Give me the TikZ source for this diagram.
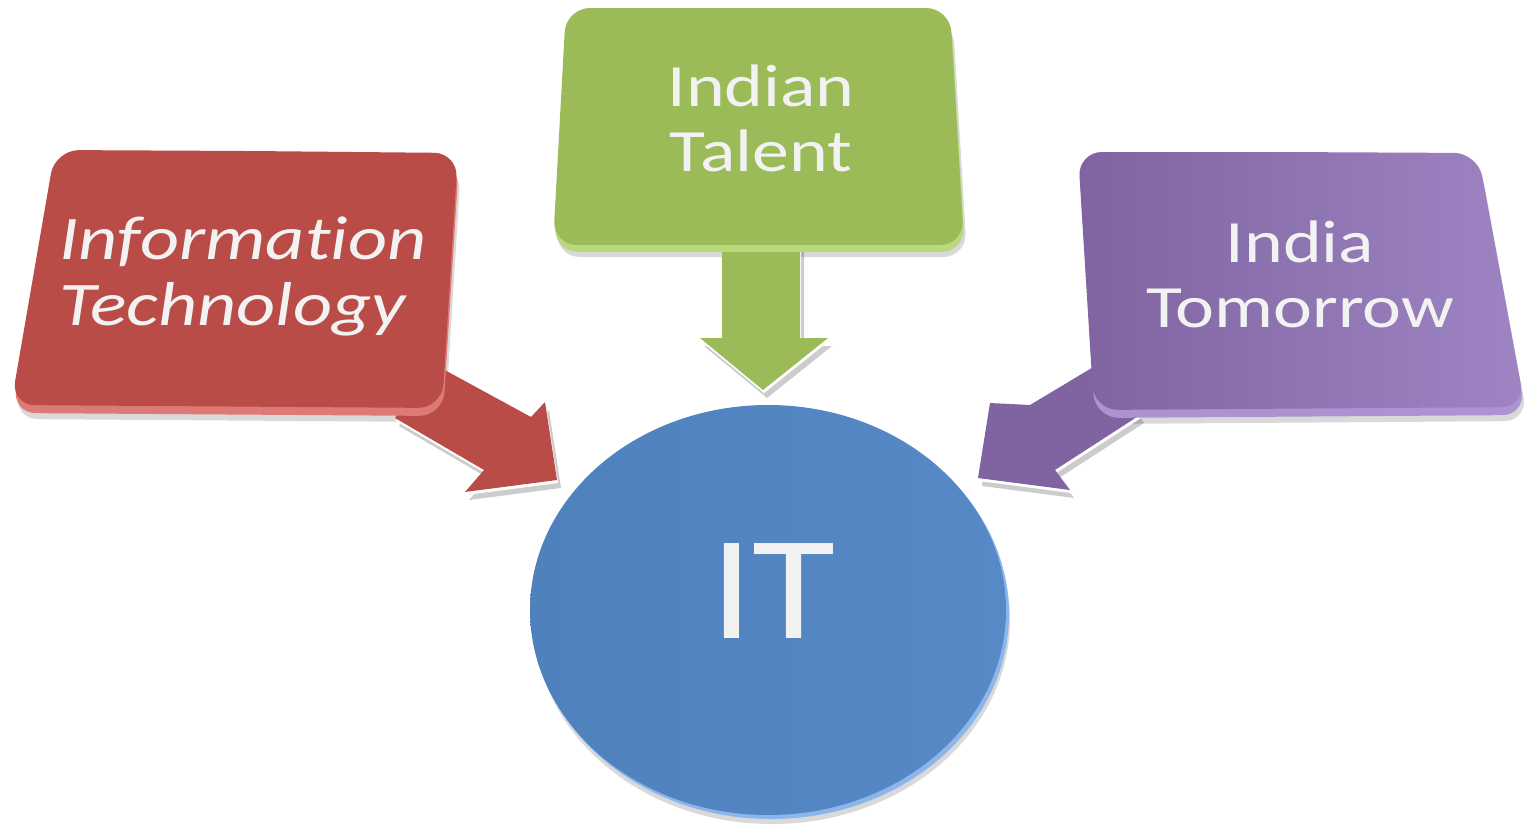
\documentclass[tikz,border=0pt]{standalone}
\usepackage{fontspec}
\setmainfont{Carlito}
\newfontfamily\boxfont[FakeStretch=1.23,Ligatures=NoCommon]{Carlito}
\newfontfamily\bigfont[FakeStretch=1.15]{Carlito}
\usetikzlibrary{positioning}
\definecolor{itred}{HTML}{BA4C48}
\definecolor{itredrim}{HTML}{DE7A76}
\definecolor{itgreen}{HTML}{9BBB59}
\definecolor{itgreenrim}{HTML}{B9DA7C}
\definecolor{itpurple}{HTML}{8064A2}
\definecolor{itpurplelt}{HTML}{9E84C2}
\definecolor{itpurplerim}{HTML}{AC92D0}
\definecolor{itblue}{HTML}{4F81BD}
\definecolor{itbluert}{HTML}{5689C6}
\definecolor{itbluerim}{HTML}{8CB6EA}
\definecolor{ittext}{HTML}{F2F2F2}

\begin{document}
\begin{tikzpicture}[x=0.5pt,y=-0.5pt,
  boxshape/.style={rounded corners=12pt},
  drop/.style={fill=black,opacity=.15},
  boxlabel/.style={text=ittext,align=center,font=\boxfont\fontsize{30}{32.5}\selectfont}]
\useasboundingbox (0,0) rectangle (1528,826);

\fill[boxshape,drop,shift={(3,14)}] (250,151) -- (458,153) -- (442,408) -- (11,405) -- (55,150) -- cycle;
\fill[boxshape,drop,shift={(3,12)}] (760,8) -- (950,8) -- (964,245) -- (553,245) -- (566,8) -- cycle;
\fill[boxshape,drop,shift={(3,14)}] (1280,152) -- (1478,153) -- (1525,407) -- (1094,410) -- (1078,152) -- cycle;
\fill[drop] (772,620) ellipse [x radius=238,y radius=204];

\foreach \dx/\dy/\col/\op in {4/8/black/.2, 1/3/white/1} {
\fill[\col,opacity=\op,shift={(\dx,\dy)}] (430,362) -- (531,417) -- (545,402) -- (557,480) -- (465,492) -- (484,470) -- (395,418) -- cycle;
\fill[\col,opacity=\op,shift={(\dx,\dy)}] (722,240) -- (722,338) -- (700,338) -- (763,390) -- (828,338) -- (800,338) -- (800,240) -- cycle;
\fill[\col,opacity=\op,shift={(\dx,\dy)}] (1105,360) -- (1030,405) -- (990,403) -- (978,478) -- (1070,490) -- (1055,470) -- (1140,415) -- cycle;
}
\fill[itred] (430,362) -- (531,417) -- (545,402) -- (557,480) -- (465,492) -- (484,470) -- (395,418) -- cycle;
\fill[itgreen] (722,240) -- (722,338) -- (700,338) -- (763,390) -- (828,338) -- (800,338) -- (800,240) -- cycle;
\fill[itpurple] (1105,360) -- (1030,405) -- (990,403) -- (978,478) -- (1070,490) -- (1055,470) -- (1140,415) -- cycle;

\fill[boxshape,itredrim,shift={(1,8)}] (250,151) -- (458,153) -- (442,408) -- (11,405) -- (55,150) -- cycle;
\fill[boxshape,itred] (250,151) -- (458,153) -- (442,408) -- (11,405) -- (55,150) -- cycle;

\fill[boxshape,itgreenrim,shift={(1,7)}] (760,8) -- (950,8) -- (964,245) -- (553,245) -- (566,8) -- cycle;
\fill[boxshape,itgreen] (760,8) -- (950,8) -- (964,245) -- (553,245) -- (566,8) -- cycle;

\fill[boxshape,itpurplerim,shift={(1,8)}] (1280,152) -- (1478,153) -- (1525,407) -- (1094,410) -- (1078,152) -- cycle;
\shade[boxshape,left color=itpurple,right color=itpurplelt] (1280,152) -- (1478,153) -- (1525,407) -- (1094,410) -- (1078,152) -- cycle;

\fill[itbluerim] (771,614) ellipse [x radius=238,y radius=205];
\shade[left color=itblue,right color=itbluert] (768,610) ellipse [x radius=238,y radius=205];

\node[boxlabel,align=left,font=\boxfont\itshape\fontsize{31}{33}\selectfont] (infotech) at (243,276) {Information\\Technology};
\node[boxlabel] (talent) at (761,118) {Indian\\Talent};
\node[boxlabel] (tomorrow) at (1300,274) {India\\Tomorrow};
\node[text=ittext,font=\bigfont\fontsize{74}{80}\selectfont] (it) at (773,591) {IT};
\end{tikzpicture}
\end{document}
